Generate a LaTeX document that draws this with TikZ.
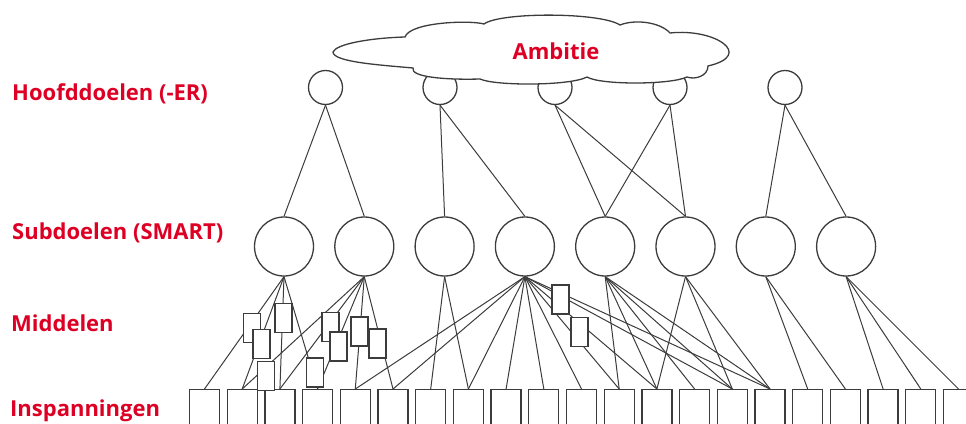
\documentclass[tikz,border=0pt]{standalone}
\usepackage{fontspec}
\setmainfont{Open Sans}
\definecolor{ared}{RGB}{222,0,36}
\definecolor{ink}{RGB}{60,60,60}
\begin{document}
\begin{tikzpicture}[x=1pt,y=-1pt,
  shapeline/.style={draw=ink, line width=1.3pt},
  goal/.style={shapeline, circle, fill=white, minimum size=34pt, inner sep=0pt},
  subgoal/.style={shapeline, circle, fill=white, minimum size=59pt, inner sep=0pt},
  effort/.style={shapeline, rectangle, fill=white, minimum width=30pt, minimum height=60pt, inner sep=0pt, anchor=north},
  means/.style={shapeline, rectangle, fill=white, minimum width=17pt, minimum height=29pt, inner sep=0pt},
  link/.style={draw=ink, line width=1pt},
  redtext/.style={text=ared, font=\fontsize{22}{26}\selectfont\bfseries, inner sep=0pt},
  lbl/.style={redtext, anchor=base west}
]
\useasboundingbox (0,0) rectangle (966,423);
\clip (0,0) rectangle (966,423);

% efforts (bottom row)
\foreach \i in {0,...,20}
  \node[effort] (i\i) at ({204.5+37.7*\i},389) {};
% sub goals
\foreach \k in {1,...,8}
  \node[subgoal] (s\k) at ({284+80.3*(\k-1)},246.5) {};
% main goals
\foreach \k/\x in {1/325.5,2/440,3/555,4/670,5/785}
  \node[goal] (h\k) at (\x,87.5) {};

% main goal -> sub goal
\foreach \a/\b in {1/1,1/2,2/3,2/4,3/5,3/6,4/5,4/6,5/7,5/8}
  \draw[link] (h\a.south) -- (s\b.north);

% sub goal -> effort
\foreach \a/\b in {1/0,1/1,1/2,1/3,
                   2/1,2/2,2/3,2/4,2/5,
                   3/6,3/7,
                   4/4,4/5,4/7,4/8,4/9,4/10,4/11,4/12,4/14,4/15,
                   5/11,5/12,5/13,5/14,5/15,
                   6/12,6/14,6/15,
                   7/16,7/17,
                   8/18,8/19,8/20}
  \draw[link] (s\a.south) -- (i\b.north);

% means, placed on the links
\foreach \n/\x/\y in {1/252/328, 2/261.5/344, 3/283.5/318, 4/315/372.5,
                      5/266/376, 6/330.5/327, 7/338.5/346.5, 8/359.5/331.5,
                      9/377.5/343.5, 10/560.5/299.5, 11/579.5/332}
  \node[means] (m\n) at (\x,\y) {};

% ambition cloud
\draw[shapeline, fill=white]
  (333,52) .. controls (336,44) and (370,38) .. (405,37)
  .. controls (410,22) and (470,20) .. (484,24)
  .. controls (500,12) and (600,12) .. (620,25)
  .. controls (635,19) and (660,22) .. (670,33)
  .. controls (715,28) and (755,55) .. (708,66)
  .. controls (708,76) and (695,80) .. (687,77)
  .. controls (670,85) and (600,85) .. (587,77)
  .. controls (570,86) and (495,86) .. (480,79)
  .. controls (445,80) and (410,77) .. (413,68)
  .. controls (380,65) and (333,62) .. (333,52) -- cycle;
\node[redtext, anchor=base] (ambitie) at (556,59) {Ambitie};

% row labels
\node[lbl] (lh) at (12,100) {Hoofddoelen (-ER)};
\node[lbl] (ls) at (12,239) {Subdoelen (SMART)};
\node[lbl] (lm) at (11,331) {Middelen};
\node[lbl] (li) at (10,416) {Inspanningen};
\end{tikzpicture}
\end{document}
